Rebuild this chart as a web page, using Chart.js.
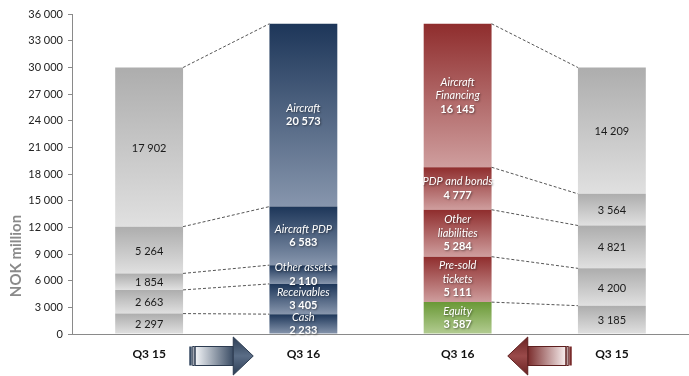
<!DOCTYPE html>
<html>
<head>
<meta charset="utf-8">
<script src="https://cdn.jsdelivr.net/npm/chart.js@4.4.1/dist/chart.umd.min.js"></script>
<style>
  html, body { margin: 0; padding: 0; background: #fff; }
  #wrap { width: 689px; height: 376px; position: relative; }
</style>
</head>
<body>
<div id="wrap"><canvas id="balance"></canvas></div>
<script>
// x categories: assets Q3 15, assets Q3 16, funding Q3 16, funding Q3 15
const periods = ['Q3 15', 'Q3 16', 'Q3 16', 'Q3 15'];

// stacked layers, bottom to top, one value per category
const layer1 = [2297, 2233, 3587, 3185];
const layer2 = [2663, 3405, 5111, 4200];
const layer3 = [1854, 2110, 5284, 4821];
const layer4 = [5264, 6583, 4777, 3564];
const layer5 = [17902, 20573, 16145, 14209];

// segment names, bottom to top (only shown on the Q3 16 bars)
const assetNames = ['Cash', 'Receivables', 'Other assets', 'Aircraft PDP', 'Aircraft'];
const fundingNames = ['Equity', 'Pre-sold\ntickets', 'Other\nliabilities', 'PDP and bonds', 'Aircraft\nFinancing'];

const yMin = 0, yMax = 36000, yStep = 3000;
const yTitle = 'NOK million';

const layers = [layer1, layer2, layer3, layer4, layer5];
const FONT = 'Lato, "Open Sans", sans-serif';

const fmt = v => String(v).replace(/\B(?=(\d{3})+(?!\d))/g, ' ');

// gradient palettes [top, bottom]
const GRAY = ['#adadad', '#e0e0e0'];
const BLUE = ['#1d3659', '#8796ad'];
const RED = ['#8f2d2d', '#cf9e9e'];
const GREEN = ['#6a9936', '#b3cc92'];

function palette(di, i) {
    if (i === 0 || i === 3) return GRAY;
    if (i === 1) return BLUE;
    return di === 0 ? GREEN : RED;
}

function segmentFill(c) {
    if (c.type !== 'data') return '#ccc';
    const chart = c.chart, y = chart.scales.y;
    const di = c.datasetIndex, i = c.dataIndex;
    let base = 0;
    for (let k = 0; k < di; k++) base += layers[k][i];
    const top = base + layers[di][i];
    const yTop = y.getPixelForValue(top), yBot = y.getPixelForValue(base);
    if (!isFinite(yTop) || !isFinite(yBot) || yTop === yBot) return palette(di, i)[1];
    const g = chart.ctx.createLinearGradient(0, yTop, 0, yBot);
    const p = palette(di, i);
    g.addColorStop(0, p[0]);
    g.addColorStop(1, p[1]);
    return g;
}

const datasets = layers.map((data, di) => ({
    label: assetNames[di],
    data: data,
    backgroundColor: segmentFill,
    borderWidth: 0,
    barPercentage: 0.44,
    categoryPercentage: 1
}));

// dashed lines joining the segment tops of neighbouring bars
const connectors = {
    id: 'connectors',
    afterDatasetsDraw(chart) {
        const ctx = chart.ctx;
        ctx.save();
        ctx.strokeStyle = '#555';
        ctx.lineWidth = 1;
        ctx.setLineDash([3, 2]);
        [[0, 1], [2, 3]].forEach(([a, b]) => {
            layers.forEach((_, di) => {
                const meta = chart.getDatasetMeta(di);
                const p = meta.data[a], q = meta.data[b];
                ctx.beginPath();
                ctx.moveTo(p.x + p.width / 2, p.y);
                ctx.lineTo(q.x - q.width / 2, q.y);
                ctx.stroke();
            });
        });
        ctx.restore();
    }
};

// value labels inside the bars
const segLabels = {
    id: 'segLabels',
    afterDatasetsDraw(chart) {
        const ctx = chart.ctx;
        ctx.save();
        ctx.textAlign = 'center';
        ctx.textBaseline = 'middle';
        layers.forEach((data, di) => {
            const meta = chart.getDatasetMeta(di);
            meta.data.forEach((bar, i) => {
                const cy = (bar.y + bar.base) / 2;
                const value = fmt(data[i]);
                if (i === 0 || i === 3) {
                    ctx.font = '11px ' + FONT;
                    ctx.fillStyle = '#1a1a1a';
                    ctx.fillText(value, bar.x, cy + 1);
                    return;
                }
                const names = (i === 1 ? assetNames : fundingNames)[di].split('\n');
                const lh = 13.5;
                const n = names.length + 1;
                let ly = cy - (n - 1) * lh / 2;
                ctx.fillStyle = '#fff';
                ctx.shadowColor = 'rgba(0,0,0,0.45)';
                ctx.shadowBlur = 2;
                ctx.shadowOffsetX = 1;
                ctx.shadowOffsetY = 1;
                ctx.font = 'italic 11px ' + FONT;
                names.forEach(s => { ctx.fillText(s, bar.x, ly); ly += lh; });
                ctx.font = 'bold 11px ' + FONT;
                ctx.fillText(value, bar.x, ly);
                ctx.shadowColor = 'transparent';
            });
        });
        ctx.restore();
    }
};

function drawArrow(ctx, cx, cy, dir, cols) {
    const len = 64, h = 38, sh = 19, head = 20;
    const x0 = cx - len / 2, x1 = cx + len / 2;
    ctx.save();
    if (dir < 0) { ctx.translate(cx * 2, 0); ctx.scale(-1, 1); }
    const hb = x1 - head;
    // shaft
    const g = ctx.createLinearGradient(x0 + 6, 0, hb, 0);
    g.addColorStop(0, cols.light);
    g.addColorStop(1, cols.dark);
    ctx.fillStyle = g;
    ctx.strokeStyle = cols.line;
    ctx.lineWidth = 1;
    ctx.fillRect(x0 + 6, cy - sh / 2, hb - x0 - 6, sh);
    ctx.strokeRect(x0 + 6, cy - sh / 2, hb - x0 - 6, sh);
    // end bars
    ctx.fillStyle = cols.dark;
    ctx.fillRect(x0, cy - sh / 2, 2.5, sh);
    ctx.strokeRect(x0 + 3.5, cy - sh / 2, 1.5, sh);
    // head
    const hg = ctx.createLinearGradient(0, cy - h / 2, 0, cy + h / 2);
    hg.addColorStop(0, cols.head[0]);
    hg.addColorStop(0.5, cols.head[1]);
    hg.addColorStop(1, cols.head[0]);
    ctx.fillStyle = hg;
    ctx.beginPath();
    ctx.moveTo(hb, cy - h / 2);
    ctx.lineTo(x1, cy);
    ctx.lineTo(hb, cy + h / 2);
    ctx.closePath();
    ctx.fill();
    ctx.stroke();
    ctx.restore();
}

// arrows between the period labels, plus the rotated axis title
const extras = {
    id: 'extras',
    afterDraw(chart) {
        const ctx = chart.ctx, x = chart.scales.x, area = chart.chartArea;
        const cy = area.bottom + 22;
        drawArrow(ctx, (x.getPixelForValue(0) + x.getPixelForValue(1)) / 2 - 5, cy, 1,
            { light: '#f2f4f7', dark: '#3a4c64', line: '#2c3b50', head: ['#2c3d55', '#5a6d86'] });
        drawArrow(ctx, (x.getPixelForValue(2) + x.getPixelForValue(3)) / 2 + 5, cy, -1,
            { light: '#f7eeee', dark: '#7a2c2c', line: '#5e1f1f', head: ['#6a2222', '#9a4a4a'] });

        ctx.save();
        ctx.translate(16, 256);
        ctx.rotate(-Math.PI / 2);
        ctx.font = 'bold 15px ' + FONT;
        ctx.fillStyle = '#8a8a8a';
        ctx.textAlign = 'center';
        ctx.textBaseline = 'middle';
        ctx.fillText(yTitle, 0, 0);
        ctx.restore();
    }
};

new Chart(document.getElementById('balance'), {
    type: 'bar',
    data: { labels: periods, datasets: datasets },
    options: {
        responsive: true,
        maintainAspectRatio: false,
        animation: false,
        layout: { padding: { top: 14, right: 0, left: 0, bottom: 0 } },
        plugins: {
            legend: { display: false },
            tooltip: { enabled: false }
        },
        scales: {
            x: {
                stacked: true,
                afterFit: s => { s.height = 42; },
                grid: { display: false },
                border: { display: true, color: '#8a8a8a', width: 1 },
                ticks: {
                    padding: 5,
                    color: '#111',
                    font: { family: FONT, size: 12, weight: 'bold' }
                }
            },
            y: {
                stacked: true,
                min: yMin,
                max: yMax,
                afterFit: s => { s.width = 72; },
                grid: { drawOnChartArea: false, drawTicks: true, tickLength: 4, color: '#8a8a8a' },
                border: { display: true, color: '#8a8a8a', width: 1 },
                ticks: {
                    stepSize: yStep,
                    padding: 5,
                    color: '#222',
                    font: { family: FONT, size: 11 },
                    callback: v => fmt(v)
                }
            }
        }
    },
    plugins: [connectors, segLabels, extras]
});
</script>
</body>
</html>
